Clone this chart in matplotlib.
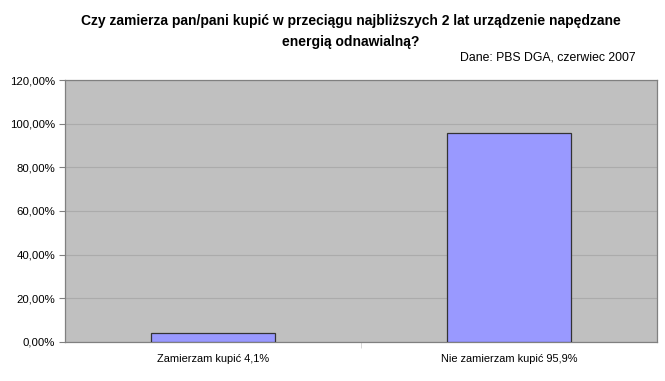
import numpy as np
import matplotlib.pyplot as plt
from matplotlib.ticker import FuncFormatter, FixedLocator

plt.rcParams['font.family'] = ['Liberation Sans', 'DejaVu Sans']

# dane
categories = ['Zamierzam kupić 4,1%', 'Nie zamierzam kupić 95,9%']
values = [4.1, 95.9]
title = 'Czy zamierza pan/pani kupić w przeciągu najbliższych 2 lat urządzenie napędzane\nenergią odnawialną?'
source = 'Dane: PBS DGA, czerwiec 2007'

fig = plt.figure(figsize=(6.65, 3.81), dpi=100)
ax = fig.add_axes([0.0977, 0.1024, 0.8903, 0.6876])

x = np.arange(len(categories))
ax.bar(x, values, width=0.42, color='#9999ff', edgecolor='#333333', linewidth=0.9, zorder=3)

ax.set_facecolor('#c0c0c0')
ax.set_xlim(-0.5, 1.5)
ax.set_ylim(0, 120)
ax.set_yticks(np.arange(0, 121, 20))
ax.yaxis.set_major_formatter(FuncFormatter(lambda v, p: f'{v:.2f}'.replace('.', ',') + '%'))
ax.grid(axis='y', color='#ababab', linewidth=0.8, zorder=0)

ax.set_xticks(x)
ax.set_xticklabels(categories)
ax.xaxis.set_minor_locator(FixedLocator([0.5]))
ax.tick_params(axis='x', which='major', length=0, pad=9, labelsize=7.9)
ax.tick_params(axis='x', which='minor', length=4, color='#d0d0d0')
ax.tick_params(axis='y', length=4, color='#808080', labelsize=8.2, pad=3)

for s in ax.spines.values():
    s.set_color('#808080')
    s.set_linewidth(0.9)

fig.text(0.527, 0.963, title, ha='center', va='top', fontsize=10, fontweight='bold',
         linespacing=1.6)
fig.text(0.956, 0.848, source, ha='right', va='center', fontsize=8.8)

fig.savefig('out.png', dpi=100)
